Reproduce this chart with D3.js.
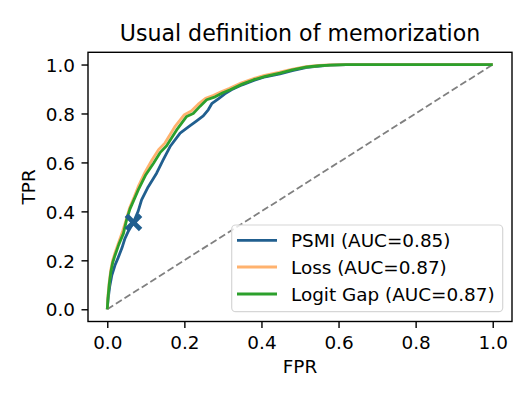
<!DOCTYPE html>
<html><head><meta charset="utf-8">
<script src="https://cdn.jsdelivr.net/npm/d3@7"></script>
<style>body{margin:0;background:#fff}svg{display:block}text{font-family:"DejaVu Sans",sans-serif;fill:#000}</style>
</head><body><svg id="c" width="532" height="399"></svg>
<script>
const title = "Usual definition of memorization";
const xLabel = "FPR", yLabel = "TPR";
const ticks = [0, 0.2, 0.4, 0.6, 0.8, 1.0];
const seriesNames = ["PSMI (AUC=0.85)", "Loss (AUC=0.87)", "Logit Gap (AUC=0.87)"];
const seriesColors = ["#215f8f", "#ffb26e", "#2ca02c"];
const psmiFpr = [0,0.002,0.006,0.012,0.02,0.028,0.038,0.046,0.055,0.068,0.08,0.089,0.106,0.128,0.145,0.163,0.189,0.215,0.232,0.249,0.262,0.271,0.29,0.305,0.322,0.35,0.38,0.41,0.448,0.48,0.518,0.55,0.578,0.62,1.0];
const psmiTpr = [0,0.04,0.09,0.14,0.18,0.21,0.25,0.29,0.32,0.355,0.40,0.447,0.50,0.556,0.61,0.665,0.72,0.75,0.77,0.79,0.815,0.84,0.862,0.88,0.897,0.917,0.935,0.95,0.962,0.975,0.988,0.994,0.998,1.0,1.0];
const lossFpr = [0,0.002,0.005,0.009,0.014,0.02,0.03,0.04,0.05,0.058,0.07,0.08,0.098,0.116,0.133,0.15,0.175,0.2,0.218,0.236,0.255,0.276,0.297,0.316,0.347,0.378,0.408,0.445,0.478,0.515,0.548,0.576,0.62,1.0];
const lossTpr = [0,0.06,0.11,0.16,0.2,0.23,0.275,0.32,0.37,0.415,0.46,0.5,0.56,0.61,0.652,0.68,0.745,0.795,0.81,0.838,0.862,0.874,0.89,0.902,0.924,0.942,0.956,0.968,0.98,0.991,0.996,0.999,1.0,1.0];
const gapFpr = [0,0.002,0.005,0.009,0.014,0.02,0.03,0.042,0.05,0.059,0.07,0.081,0.1,0.12,0.137,0.154,0.18,0.206,0.223,0.241,0.258,0.28,0.3,0.319,0.35,0.38,0.41,0.448,0.48,0.518,0.55,0.578,0.62,1.0];
const gapTpr = [0,0.05,0.1,0.15,0.19,0.22,0.265,0.31,0.365,0.41,0.45,0.49,0.55,0.597,0.64,0.668,0.733,0.788,0.80,0.83,0.856,0.868,0.885,0.897,0.92,0.938,0.952,0.965,0.978,0.99,0.995,0.998,1.0,1.0];
const markerPoint = [0.068, 0.355];

const svg = d3.select("#c");
const L = 88, R = 512, T = 52.3, B = 321.5;
const x = d3.scaleLinear().domain([-0.05, 1.05]).range([L, R]);
const y = d3.scaleLinear().domain([-0.05, 1.05]).range([B, T]);
const fs = 18.4;

const xAxis = svg.append("g").attr("transform", `translate(0,${B})`)
  .call(d3.axisBottom(x).tickValues(ticks).tickFormat(d3.format(".1f")).tickSize(6.5).tickPadding(6.5));
const yAxis = svg.append("g").attr("transform", `translate(${L},0)`)
  .call(d3.axisLeft(y).tickValues(ticks).tickFormat(d3.format(".1f")).tickSize(6.5).tickPadding(6.5));
[xAxis, yAxis].forEach(g => {
  g.select(".domain").remove();
  g.selectAll("line").attr("stroke", "#000").attr("stroke-width", 1.4);
  g.selectAll("text").attr("font-size", fs).attr("font-family", "DejaVu Sans").attr("fill", "#000");
});
xAxis.selectAll("text").attr("dy", null).attr("y", 13 + 14);
yAxis.selectAll("text").attr("dy", null).attr("y", 6.7);

const clip = svg.append("clipPath").attr("id", "clp").append("rect")
  .attr("x", L).attr("y", T).attr("width", R - L).attr("height", B - T);
const plot = svg.append("g").attr("clip-path", "url(#clp)");

plot.append("line").attr("x1", x(0)).attr("y1", y(0)).attr("x2", x(1)).attr("y2", y(1))
  .attr("stroke", "#808080").attr("stroke-width", 1.8).attr("stroke-dasharray", "7,3.2");

const line = d3.line().x(d => x(d[0])).y(d => y(d[1]));
const data = [d3.zip(psmiFpr, psmiTpr), d3.zip(lossFpr, lossTpr), d3.zip(gapFpr, gapTpr)];
data.forEach((d, i) => {
  plot.append("path").datum(d).attr("d", line).attr("fill", "none")
    .attr("stroke", seriesColors[i]).attr("stroke-width", 2.8).attr("stroke-linejoin", "round");
});

// X marker (filled "X")
const ms = 8.8, w = 3.4;
const xPath = `M${-ms+w},${-ms} L0,${-w} L${ms-w},${-ms} L${ms},${-ms+w} L${w},0 L${ms},${ms-w} L${ms-w},${ms} L0,${w} L${-ms+w},${ms} L${-ms},${ms-w} L${-w},0 L${-ms},${-ms+w} Z`;
svg.append("path").attr("d", xPath).attr("fill", seriesColors[0])
  .attr("transform", `translate(${x(markerPoint[0])},${y(markerPoint[1])})`);

// frame
svg.append("rect").attr("x", L).attr("y", T).attr("width", R - L).attr("height", B - T)
  .attr("fill", "none").attr("stroke", "#000").attr("stroke-width", 1.4);

// legend
const lg = svg.append("g");
lg.append("rect").attr("x", 231.7).attr("y", 225).attr("width", 271).attr("height", 86.7)
  .attr("rx", 4).attr("fill", "#fff").attr("fill-opacity", 0.8).attr("stroke", "#d6d6d6").attr("stroke-width", 1.2);
const rows = [240.3, 267, 294];
seriesNames.forEach((n, i) => {
  lg.append("line").attr("x1", 237).attr("x2", 277).attr("y1", rows[i]).attr("y2", rows[i])
    .attr("stroke", seriesColors[i]).attr("stroke-width", 2.8);
  lg.append("text").attr("x", 291).attr("y", rows[i] + 6.7).attr("font-size", fs).text(n);
});

svg.append("text").attr("x", (L + R) / 2).attr("y", 41).attr("text-anchor", "middle").attr("font-size", 22.1).text(title);
svg.append("text").attr("x", (L + R) / 2).attr("y", 373.3).attr("text-anchor", "middle").attr("font-size", fs).text(xLabel);
svg.append("text").attr("transform", `translate(35,${(T + B) / 2}) rotate(-90)`).attr("text-anchor", "middle").attr("font-size", fs).text(yLabel);
</script></body></html>
